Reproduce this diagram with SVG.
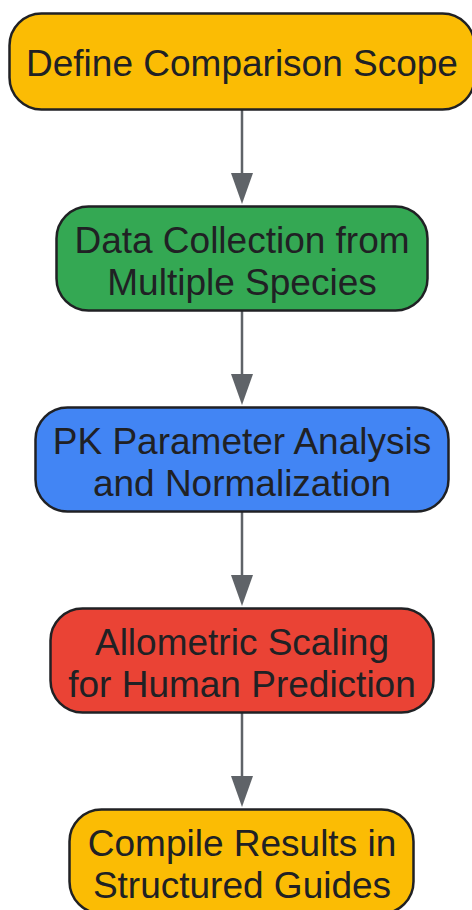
<svg xmlns="http://www.w3.org/2000/svg" width="472" height="910" viewBox="0 0 472 910">
<defs>
<style>
.n{stroke:#202124;stroke-width:2.5}
.t{font-family:"Liberation Sans",Arial,sans-serif;font-size:37px;fill:#202124;text-anchor:middle}
.e{stroke:#5f6368;stroke-width:2.5;fill:none}
.h{fill:#5f6368}
</style>
</defs>
<rect width="472" height="910" fill="#ffffff"/>
<g id="edges">
<path class="e" d="M242 110 V178"/><path class="h" d="M231 173 L253 173 L242 204 Z"/>
<path class="e" d="M242 311 V379"/><path class="h" d="M231 374 L253 374 L242 405 Z"/>
<path class="e" d="M242 512 V580"/><path class="h" d="M231 575 L253 575 L242 606 Z"/>
<path class="e" d="M242 713 V781"/><path class="h" d="M231 776 L253 776 L242 807 Z"/>
</g>
<g id="n1">
<rect class="n" x="9.5" y="13.5" width="465" height="96" rx="32" fill="#fbbc04"/>
<text class="t" x="242" y="76">Define Comparison Scope</text>
</g>
<g id="n2">
<rect class="n" x="56.5" y="206.5" width="371" height="104" rx="32" fill="#34a853"/>
<text class="t" x="242" y="253">Data Collection from</text>
<text class="t" x="242" y="295">Multiple Species</text>
</g>
<g id="n3">
<rect class="n" x="35.5" y="407.5" width="413" height="104" rx="32" fill="#4285f4"/>
<text class="t" x="242" y="454">PK Parameter Analysis</text>
<text class="t" x="242" y="496">and Normalization</text>
</g>
<g id="n4">
<rect class="n" x="50.5" y="608.5" width="383" height="104" rx="32" fill="#ea4335"/>
<text class="t" x="242" y="655">Allometric Scaling</text>
<text class="t" x="242" y="697">for Human Prediction</text>
</g>
<g id="n5">
<rect class="n" x="69.5" y="809.5" width="344" height="104" rx="32" fill="#fbbc04"/>
<text class="t" x="242" y="856">Compile Results in</text>
<text class="t" x="242" y="898">Structured Guides</text>
</g>
</svg>
